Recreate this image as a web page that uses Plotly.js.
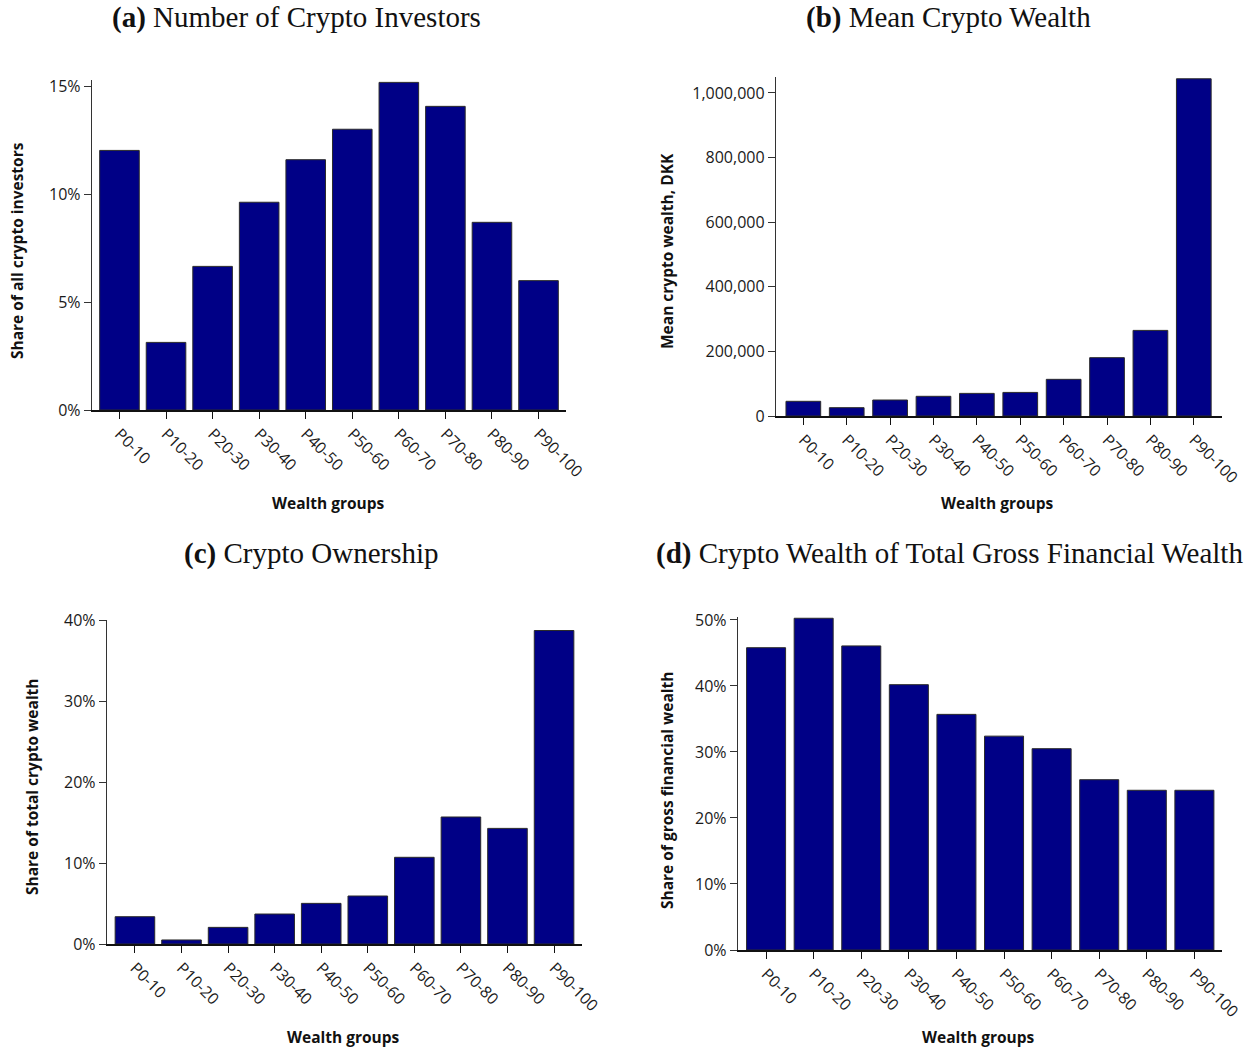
<!DOCTYPE html>
<html>
<head>
<meta charset="utf-8">
<script src="https://cdn.plot.ly/plotly-3.0.1.min.js"></script>
<style>
  html, body { margin: 0; padding: 0; background: #ffffff; }
  #chart { width: 1256px; height: 1052px; }
</style>
</head>
<body>
<div id="chart"></div>
<script>
// Wealth percentile groups shared by all four panels
const groups = ["P0-10", "P10-20", "P20-30", "P30-40", "P40-50",
                "P50-60", "P60-70", "P70-80", "P80-90", "P90-100"];

// (a) Share of all crypto investors, %
const investorShare = [12.02, 3.13, 6.65, 9.62, 11.59, 13.0, 15.17, 14.06, 8.69, 5.99];

// (b) Mean crypto wealth, DKK
const meanWealth = [45500, 25800, 49500, 61000, 70000, 73000, 113500, 180600, 265000, 1044000];

// (c) Share of total crypto wealth, %
const ownershipShare = [3.38, 0.5, 2.06, 3.71, 5.03, 5.94, 10.73, 15.72, 14.31, 38.8];

// (d) Crypto share of gross financial wealth, %
const grossShare = [45.8, 50.26, 46.07, 40.2, 35.7, 32.4, 30.5, 25.8, 24.2, 24.2];

const W = 1256, H = 1052;
const px = x => x / W;
const py = y => 1 - y / H;

const BAR_FILL = "#000086";
const BAR_EDGE = "#2b2b2b";
const TICK_FONT = { family: "Open Sans, Noto Sans, sans-serif", size: 16, color: "#1a1a1a" };
const AXIS_TITLE_FONT = { family: "Open Sans, Noto Sans, sans-serif", size: 15.5, color: "#111111", weight: 700 };
const PANEL_TITLE_FONT = { family: "Liberation Serif, DejaVu Serif, serif", size: 29, color: "#111111" };

function barTrace(values, xa, ya, width) {
  return {
    type: "bar",
    x: groups,
    y: values,
    xaxis: xa,
    yaxis: ya,
    width: width,
    marker: { color: BAR_FILL, line: { color: BAR_EDGE, width: 1 } },
    hoverinfo: "skip"
  };
}

function xAxis(domain, range, anchor) {
  return {
    domain: domain,
    anchor: anchor,
    type: "category",
    range: range,
    tickangle: 45,
    ticks: "outside",
    ticklen: 7,
    tickwidth: 1,
    tickcolor: "#111111",
    showline: true,
    linecolor: "#111111",
    linewidth: 1.5,
    showgrid: false,
    zeroline: false,
    tickfont: TICK_FONT,
    fixedrange: true
  };
}

function yAxis(domain, range, anchor, extra) {
  return Object.assign({
    domain: domain,
    anchor: anchor,
    range: range,
    ticks: "outside",
    ticklen: 7,
    tickwidth: 1,
    tickcolor: "#333333",
    showline: true,
    linecolor: "#333333",
    linewidth: 1.2,
    showgrid: false,
    zeroline: false,
    tickfont: TICK_FONT,
    fixedrange: true
  }, extra);
}

const data = [
  barTrace(investorShare, "x", "y", 0.85),
  barTrace(meanWealth, "x2", "y2", 0.8),
  barTrace(ownershipShare, "x3", "y3", 0.85),
  barTrace(grossShare, "x4", "y4", 0.82)
];

function panelTitle(letter, text, x, y) {
  return {
    xref: "paper", yref: "paper",
    x: px(x), y: py(y),
    xanchor: "center", yanchor: "middle",
    showarrow: false,
    text: "<b>(" + letter + ")</b> " + text,
    font: PANEL_TITLE_FONT
  };
}

function yTitle(text, x, y) {
  return {
    xref: "paper", yref: "paper",
    x: px(x), y: py(y),
    xanchor: "center", yanchor: "middle",
    textangle: -90,
    showarrow: false,
    text: text,
    font: AXIS_TITLE_FONT
  };
}

function xTitle(text, x, y) {
  return {
    xref: "paper", yref: "paper",
    x: px(x), y: py(y),
    xanchor: "center", yanchor: "middle",
    showarrow: false,
    text: text,
    font: AXIS_TITLE_FONT
  };
}

const layout = {
  width: W,
  height: H,
  margin: { l: 0, r: 0, t: 0, b: 0, pad: 0 },
  paper_bgcolor: "#ffffff",
  plot_bgcolor: "#ffffff",
  showlegend: false,
  bargap: 0.15,

  // (a)
  xaxis: xAxis([px(92), px(566)], [-0.59, 9.59], "y"),
  yaxis: yAxis([py(410), py(80)], [0, 15.28], "x",
               { tickvals: [0, 5, 10, 15], ticktext: ["0%", "5%", "10%", "15%"] }),

  // (b)
  xaxis2: xAxis([px(776), px(1222)], [-0.63, 9.65], "y2"),
  yaxis2: yAxis([py(416), py(77)], [0, 1049500], "x2",
                { tickvals: [0, 200000, 400000, 600000, 800000, 1000000], tickformat: ",d" }),

  // (c)
  xaxis3: xAxis([px(107), px(582)], [-0.6, 9.6], "y3"),
  yaxis3: yAxis([py(944), py(620)], [0, 40.1], "x3",
                { tickvals: [0, 10, 20, 30, 40], ticktext: ["0%", "10%", "20%", "30%", "40%"] }),

  // (d)
  xaxis4: xAxis([px(738), px(1222)], [-0.59, 9.58], "y4"),
  yaxis4: yAxis([py(950), py(617)], [0, 50.45], "x4",
                { tickvals: [0, 10, 20, 30, 40, 50], ticktext: ["0%", "10%", "20%", "30%", "40%", "50%"] }),

  annotations: [
    panelTitle("a", "Number of Crypto Investors", 296, 18),
    panelTitle("b", "Mean Crypto Wealth", 948, 18),
    panelTitle("c", "Crypto Ownership", 311, 553),
    panelTitle("d", "Crypto Wealth of Total Gross Financial Wealth", 949, 553),

    yTitle("Share of all crypto investors", 17, 251),
    yTitle("Mean crypto wealth, DKK", 667, 251),
    yTitle("Share of total crypto wealth", 32, 787),
    yTitle("Share of gross financial wealth", 667, 791),

    xTitle("Wealth groups", 328, 503),
    xTitle("Wealth groups", 997, 503),
    xTitle("Wealth groups", 343, 1037),
    xTitle("Wealth groups", 978, 1037)
  ]
};

Plotly.newPlot("chart", data, layout, { staticPlot: true, displayModeBar: false });
</script>
</body>
</html>
